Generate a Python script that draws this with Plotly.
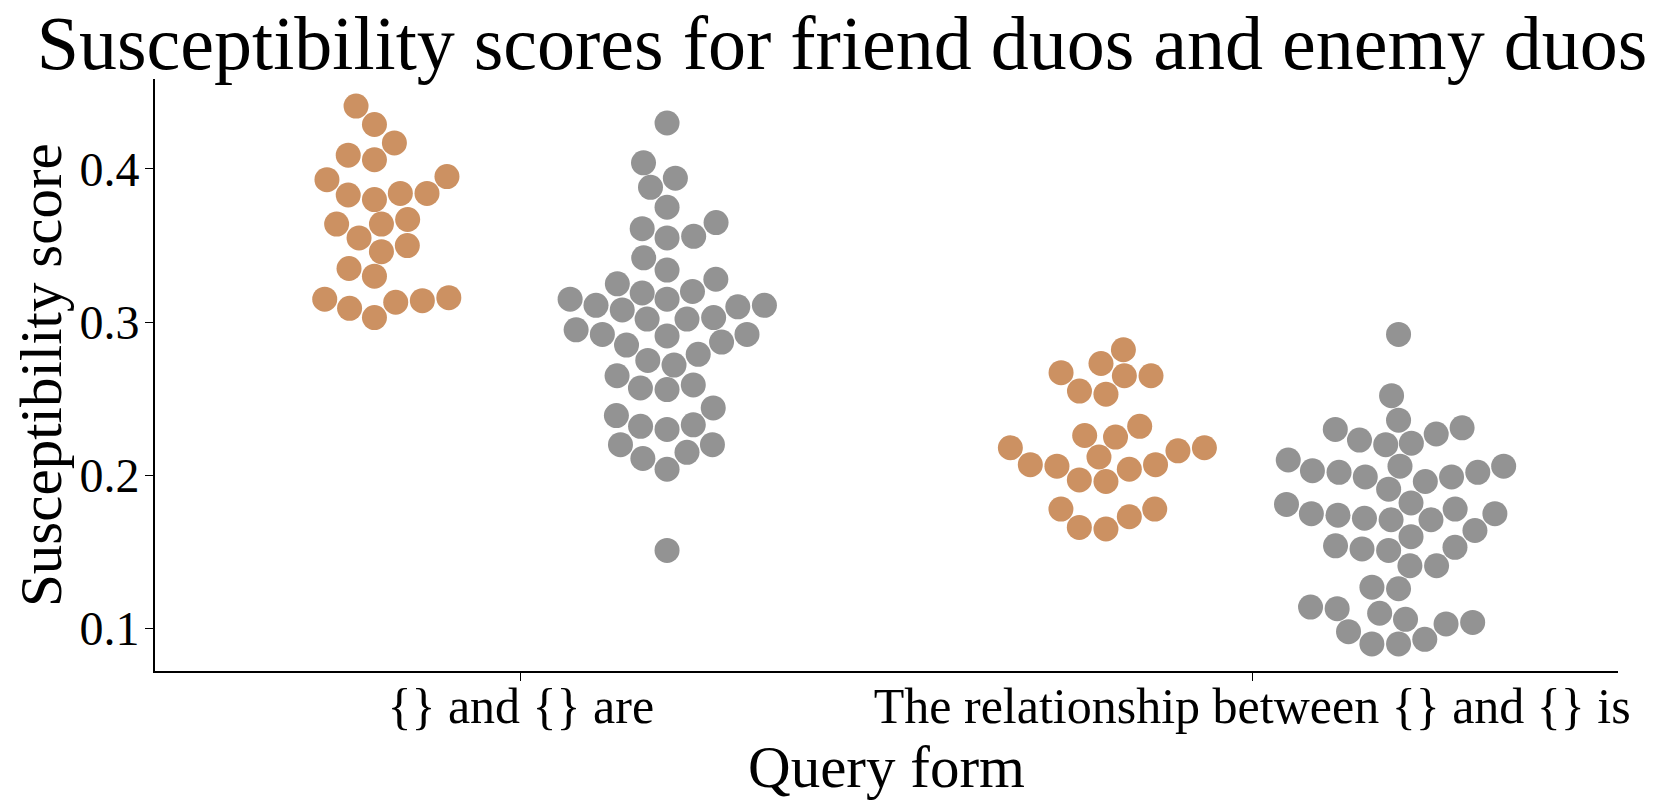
import numpy as np
import plotly.graph_objects as go

# Query forms on the x axis (category order) and the two duo types
query_forms = ["{} and {} are", "The relationship between {} and {} is"]

# Susceptibility scores
friend_are = [0.441, 0.429, 0.417, 0.409, 0.406, 0.395, 0.393, 0.384, 0.384, 0.380,
              0.383, 0.367, 0.364, 0.364, 0.355, 0.346, 0.350, 0.335, 0.330, 0.315,
              0.309, 0.303, 0.313, 0.314, 0.316]
enemy_are = [0.430, 0.404, 0.394, 0.388, 0.375, 0.365, 0.361, 0.356, 0.355, 0.342,
             0.334, 0.328, 0.325, 0.320, 0.319, 0.311, 0.311, 0.315, 0.315, 0.308,
             0.310, 0.302, 0.302, 0.303, 0.292, 0.295, 0.287, 0.291, 0.292, 0.285,
             0.279, 0.272, 0.275, 0.265, 0.259, 0.256, 0.257, 0.244, 0.239, 0.232,
             0.230, 0.233, 0.220, 0.220, 0.211, 0.215, 0.204, 0.151]
friend_rel = [0.282, 0.273, 0.267, 0.265, 0.265, 0.255, 0.253, 0.232, 0.226, 0.225,
              0.218, 0.218, 0.216, 0.212, 0.207, 0.206, 0.204, 0.207, 0.197, 0.196,
              0.178, 0.173, 0.165, 0.166, 0.178]
enemy_rel = [0.292, 0.252, 0.236, 0.231, 0.227, 0.221, 0.220, 0.223, 0.230, 0.206,
             0.202, 0.199, 0.206, 0.191, 0.196, 0.199, 0.202, 0.203, 0.210, 0.175,
             0.175, 0.172, 0.171, 0.181, 0.171, 0.174, 0.182, 0.178, 0.164, 0.160,
             0.154, 0.151, 0.152, 0.153, 0.141, 0.141, 0.126, 0.127, 0.113, 0.106,
             0.110, 0.114, 0.104, 0.098, 0.103, 0.090, 0.090, 0.093]

friend_color = "#CC9162"
enemy_color = "#939393"

# the page body adds an 8px offset, so the figure is 8px smaller than the window
W, H = 1652, 800
margin = dict(l=147, r=42, t=71, b=137)
x_range = [-0.5, 1.5]
y_range = [0.0723, 0.4587]
dodge = 0.2
dot = 25          # marker diameter in px
radius = 12.7     # collision radius in px

# pixels per data unit, so the swarm can be laid out like seaborn does
px_x = (W - margin["l"] - margin["r"]) / (x_range[1] - x_range[0])
px_y = (H - margin["t"] - margin["b"]) / (y_range[1] - y_range[0])


def swarm(values, center):
    # seaborn-style beeswarm: place points bottom-up, nearest free slot to the midline
    values = np.asarray(values, dtype=float)
    order = np.argsort(values, kind="stable")
    ys = values[order] * px_y
    placed = []
    for y in ys:
        neighbors = []
        for xj, yj in reversed(placed):
            if y - yj < 2 * radius:
                neighbors.append((xj, yj))
            else:
                break
        cands = [0.0]
        left = True
        for xj, yj in neighbors:
            dx = np.sqrt(max((2 * radius) ** 2 - (y - yj) ** 2, 0)) * 1.05
            cands += [xj - dx, xj + dx] if left else [xj + dx, xj - dx]
            left = not left
        cands.sort(key=abs)
        chosen = cands[0]
        for c in cands:
            if all((c - xj) ** 2 + (y - yj) ** 2 >= (2 * radius) ** 2 for xj, yj in neighbors):
                chosen = c
                break
        placed.append((chosen, y))
    xs = np.empty(len(ys))
    xs[order] = [p[0] for p in placed]
    return center + xs / px_x


fig = go.Figure()
series = [
    (friend_are, 0 - dodge, friend_color),
    (enemy_are, 0 + dodge, enemy_color),
    (friend_rel, 1 - dodge, friend_color),
    (enemy_rel, 1 + dodge, enemy_color),
]
for vals, center, color in series:
    fig.add_trace(go.Scatter(
        x=swarm(vals, center), y=vals, mode="markers",
        marker=dict(size=dot, color=color, line=dict(width=0)),
        showlegend=False,
    ))

font = "Liberation Serif, Times New Roman, serif"
fig.update_layout(
    width=W, height=H,
    margin=margin,
    plot_bgcolor="white", paper_bgcolor="white",
    font=dict(family=font, color="black"),
    title=dict(text="Susceptibility scores for friend duos and enemy duos",
               x=834 / W, xanchor="center", xref="container",
               y=1 - 34 / H, yanchor="middle", yref="container",
               font=dict(size=76, family=font, color="black")),
)
fig.update_xaxes(
    range=x_range, tickvals=[0, 1], ticktext=query_forms,
    showgrid=False, zeroline=False, automargin=False,
    showline=True, linecolor="black", linewidth=1.6,
    ticks="outside", ticklen=8, tickwidth=1.4, tickcolor="black",
    ticklabelstandoff=-18,
    tickfont=dict(size=50, family=font, color="black"),
    title=dict(text="Query form", standoff=8, font=dict(size=59, family=font, color="black")),
)
fig.update_yaxes(
    range=y_range, tickvals=[0.1, 0.2, 0.3, 0.4], ticktext=["0.1", "0.2", "0.3", "0.4"],
    showgrid=False, zeroline=False, automargin=False,
    showline=True, linecolor="black", linewidth=1.6,
    ticks="outside", ticklen=8, tickwidth=1.4, tickcolor="black",
    ticklabelstandoff=-4,
    tickfont=dict(size=48, family=font, color="black"),
)
# y-axis title as an annotation so it can sit close to the page edge
plot_w = W - margin["l"] - margin["r"]
fig.add_annotation(
    text="Susceptibility score", textangle=-90,
    xref="paper", yref="paper", x=(33 - margin["l"]) / plot_w, y=0.5,
    xanchor="center", yanchor="middle", showarrow=False,
    font=dict(size=59, family=font, color="black"),
)

fig.write_html("out.html")
